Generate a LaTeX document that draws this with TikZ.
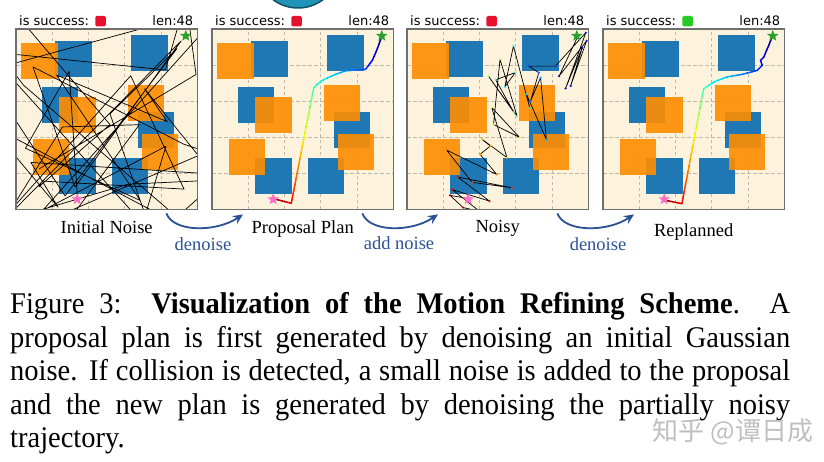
\documentclass[tikz,border=0pt]{standalone}
\usepackage{fontspec}
\setmainfont{Liberation Serif}
\setsansfont{DejaVu Sans}
\newfontfamily\capfont[FakeStretch=0.95]{Liberation Serif}
\newfontfamily\cjkfont{Noto Sans CJK SC}
\usetikzlibrary{arrows.meta, positioning, shapes.geometric, calc}
\definecolor{cblue}{HTML}{1F78B4}
\definecolor{corange}{HTML}{FF8C00}
\definecolor{ccream}{HTML}{FDF3DD}
\definecolor{cframe}{HTML}{6E6E6E}
\definecolor{cgrid}{HTML}{C0B8A8}
\definecolor{cred}{HTML}{E8112D}
\definecolor{cgreen}{HTML}{22CC22}
\definecolor{cpink}{HTML}{FF6EC7}
\definecolor{cstar}{HTML}{2CA02C}
\definecolor{cflow}{HTML}{2A5195}
\definecolor{cbubble}{HTML}{1E94B8}
\definecolor{cbubbled}{HTML}{0E4E66}
\newcommand\jetcolor[1]{%
  \pgfmathsetmacro\jr{max(0,min(1,1.5-abs(4*(#1)-3)))}%
  \pgfmathsetmacro\jg{max(0,min(1,1.5-abs(4*(#1)-2)))}%
  \pgfmathsetmacro\jb{max(0,min(1,1.5-abs(4*(#1)-1)))}%
  \definecolor{jet}{rgb}{\jr,\jg,\jb}}
\newcommand\gradpath[1]{%
  \foreach \x/\y/\tv/\nseg [remember=\x as \lx (initially 1.69), remember=\y as \ly (initially 0.3), remember=\tv as \ltv (initially 1)] in {#1} {
    \foreach \k in {1,...,\nseg} {
      \pgfmathsetmacro\fa{(\k-1)/\nseg}
      \pgfmathsetmacro\fb{\k/\nseg}
      \jetcolor{\ltv+(\tv-\ltv)*(\k-0.5)/\nseg}
      \draw[pathseg, draw=jet] ($(\lx,\ly)!\fa!(\x,\y)$) -- ($(\lx,\ly)!\fb!(\x,\y)$);
      \fill ($(\lx,\ly)!\fb!(\x,\y)$) circle (0.55pt);
    }
  }}
\def\blueboxes{1.09/3.67, 3.19/3.85, 0.72/2.40, 3.37/1.70, 1.20/0.42, 2.64/0.42}
\def\orangeboxes{0.15/3.63, 1.20/2.12, 0.46/0.95, 3.10/2.45, 3.47/1.09}
\def\noisypts{1.19/0.39, 1.55/0.05, 2.00/-0.05, 1.25/0.55, 2.28/0.23, 1.40/0.90, 2.90/0.60, 1.80/0.75, 1.09/1.65, 2.48/0.97, 2.02/1.53, 2.30/1.76, 2.07/1.95, 2.76/1.44, 2.34/2.83, 3.11/2.00, 2.39/2.36, 2.57/4.17, 3.04/2.59, 2.25/3.70, 2.95/2.70, 2.45/3.60, 2.99/3.80, 2.70/3.40, 2.94/4.54, 3.39/2.82, 3.30/3.20, 3.85/1.94, 3.69/3.66, 3.41/3.00, 3.64/3.80, 3.36/3.98, 4.10/3.98, 4.94/4.91, 4.38/3.36, 4.84/4.49, 4.52/3.43, 4.96/4.68, 4.20/3.70, 4.70/4.77}
\tikzset{
  panel/.style={fill=ccream, minimum width=181pt, minimum height=180pt, inner sep=0pt, anchor=north west},
  panelframe/.style={draw=cframe, line width=1.1pt},
  gridline/.style={draw=cgrid, dash pattern=on 3.5pt off 2.5pt, line width=0.6pt},
  bluebox/.style={fill=cblue},
  orangebox/.style={fill=corange, fill opacity=0.9},
  hdr/.style={font=\sffamily\fontsize{13}{15}\selectfont, inner sep=0pt},
  flag/.style={fill=#1, minimum size=10.5pt, inner sep=0pt, rounded corners=1.5pt},
  noiseline/.style={draw=black, line width=0.7pt, line join=round},
  pathseg/.style={line width=1.5pt, line cap=round},
  startstar/.style={star, star points=5, star point ratio=2.3, fill=cpink, inner sep=0pt, minimum size=12pt},
  goalstar/.style={startstar, fill=cstar},
  plabel/.style={font=\fontsize{18.5}{22}\selectfont, inner sep=0pt, anchor=base},
  flowlabel/.style={font=\fontsize{18.5}{22}\selectfont, text=cflow, inner sep=0pt, anchor=base},
  flow/.style={-{Stealth[length=10pt, width=9pt]}, draw=cflow, line width=1.8pt},
  captext/.style={text width=780pt, align=justify, inner sep=0pt, font=\capfont\fontsize{30}{33.5}\selectfont},
  wmark/.style={font=\cjkfont\fontsize{26}{28}\selectfont, text=black!25, inner sep=0pt},
}

\begin{document}
\begin{tikzpicture}[x=1pt, y=-1pt]
  \useasboundingbox (0,0) rectangle (824,462);
  % bubble cut off at the top edge
  \draw[fill=cbubble, draw=cbubbled, line width=1.5pt] (298,-33.5) circle (41.5pt);

  % the four maze panels
  \foreach \p/\px/\fc in {1/16/cred, 2/212/cred, 3/407/cred, 4/603/cgreen} {
    \node[panel] (p\p) at (\px,29) {};
    \begin{scope}[shift={(p\p.south west)}, x=36.2pt, y=36pt]
      \foreach \g in {1,...,4} {
        \draw[gridline] (\g,0) -- (\g,5);
        \draw[gridline] (0,\g) -- (5,\g);
      }
      \foreach \bx/\by in \blueboxes \fill[bluebox] (\bx,\by) rectangle ++(1,1);
      \foreach \ox/\oy in \orangeboxes \fill[orangebox] (\ox,\oy) rectangle ++(1,1);
    \end{scope}
    \node[hdr, anchor=base west] (h\p) at ([shift={(3pt,3pt)}]p\p.north west) {is success:};
    \node[flag=\fc, right=6pt of h\p] (f\p) {};
    \node[hdr, anchor=base east] (n\p) at ([shift={(-4pt,3pt)}]p\p.north east) {len:48};
  }

  % initial noise
  \begin{scope}[shift={(p1.south west)}, x=36.2pt, y=36pt]
    \clip (0,0) rectangle (5,5);
    \pgfmathsetseed{11}
    \draw[noiseline] (1.7,0.3) \foreach \i in {1,...,47} { -- ({7*rnd-1},{7*rnd-1}) };
    \node[startstar] (s1) at (1.69,0.28) {};
    \node[goalstar] (g1) at (4.69,4.82) {};
  \end{scope}

  % proposal plan
  \begin{scope}[shift={(p2.south west)}, x=36.2pt, y=36pt]
    \gradpath{1.69/0.30/1/1, 2.19/0.17/0.88/4, 2.81/3.38/0.45/18, 2.90/3.47/0.41/1, 3.08/3.60/0.37/2, 3.41/3.75/0.32/3, 3.69/3.85/0.27/2, 4.06/3.88/0.22/3, 4.24/3.89/0.18/2, 4.43/4.14/0.12/3, 4.57/4.47/0.06/3, 4.69/4.81/0/3}
    \node[startstar] (s2) at (1.69,0.28) {};
    \node[goalstar] (g2) at (4.69,4.82) {};
  \end{scope}

  % noisy
  \begin{scope}[shift={(p3.south west)}, x=36.2pt, y=36pt]
    \clip (0,0) rectangle (5,5);
    \draw[noiseline] (1.69,0.30) \foreach \x/\y in \noisypts { -- (\x,\y) };
    \foreach \x/\y [count=\i] in \noisypts {
      \jetcolor{1-\i/40}
      \fill[jet] (\x,\y) circle (1.2pt);
    }
    \node[startstar] (s3) at (1.69,0.28) {};
    \node[goalstar] (g3) at (4.69,4.82) {};
  \end{scope}

  % replanned
  \begin{scope}[shift={(p4.south west)}, x=36.2pt, y=36pt]
    \gradpath{1.69/0.26/1/1, 2.18/0.16/0.88/4, 2.78/3.35/0.45/18, 3.06/3.54/0.38/2, 3.43/3.68/0.32/3, 3.84/3.75/0.25/3, 4.26/3.86/0.18/3, 4.40/4.00/0.14/1, 4.35/4.14/0.11/1, 4.44/4.23/0.09/1, 4.58/4.56/0.05/3, 4.69/4.84/0/2}
    \node[startstar] (s4) at (1.69,0.28) {};
    \node[goalstar] (g4) at (4.69,4.82) {};
  \end{scope}

  \foreach \p in {1,...,4} \draw[panelframe] (p\p.south west) rectangle (p\p.north east);

  % labels and arrows
  \foreach \p/\txt/\dy in {1/Initial Noise/24, 2/Proposal Plan/24, 3/Noisy/23, 4/Replanned/27}
    \node[plabel] (l\p) at ([yshift=-\dy pt]p\p.south) {\txt};
  \node[flowlabel] (d1) at (203,251) {denoise};
  \node[flowlabel] (d2) at (399,250) {add noise};
  \node[flowlabel] (d3) at (598,251) {denoise};
  \foreach \a/\b in {1/2, 2/3, 3/4} {
    \coordinate (a\a) at ([shift={(-31pt,-4pt)}]p\a.south east);
    \coordinate (b\a) at ([shift={(31pt,-5pt)}]p\b.south west);
    \draw[flow] (a\a) .. controls +(7,19) and +(-27,18) .. (b\a);
  }

  % caption
  \node[captext, anchor=north west] (cap) at (10,292.5) {\hyphenpenalty=10000\relax Figure 3:\ \ \textbf{Visualization of the Motion Refining Scheme}.\ \ A\linebreak proposal plan is first generated by denoising an initial Gaussian\linebreak noise. If collision is detected, a small noise is added to the proposal\linebreak and the new plan is generated by denoising the partially noisy\linebreak trajectory.};
  \node[wmark] (wm) at (733,432) {知乎 @谭日成};
\end{tikzpicture}
\end{document}
